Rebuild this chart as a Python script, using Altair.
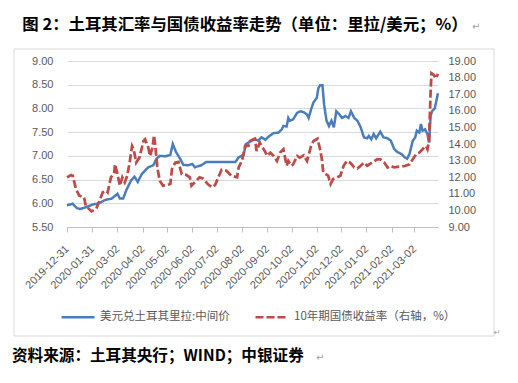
import altair as alt
import pandas as pd

title_text = "图 2：土耳其汇率与国债收益率走势（单位：里拉/美元；%）"
source_text = "资料来源：土耳其央行；WIND；中银证券"
blue_name = "美元兑土耳其里拉:中间价"
red_name = "10年期国债收益率（右轴，%）"

tick_dates = ["2019-12-31", "2020-01-31", "2020-03-02", "2020-04-02", "2020-05-02",
              "2020-06-02", "2020-07-02", "2020-08-02", "2020-09-02", "2020-10-02",
              "2020-11-02", "2020-12-02", "2021-01-02", "2021-02-02", "2021-03-02"]
x_domain = ["2019-12-31", "2021-03-31"]
left_ticks = [5.5, 6.0, 6.5, 7.0, 7.5, 8.0, 8.5, 9.0]
right_ticks = [9, 10, 11, 12, 13, 14, 15, 16, 17, 18, 19]

blue_dates = ["2019-12-31", "2020-01-07", "2020-01-12", "2020-01-16", "2020-01-22", "2020-01-31",
              "2020-02-08", "2020-02-16", "2020-02-24", "2020-03-02", "2020-03-05", "2020-03-09",
              "2020-03-13", "2020-03-19", "2020-03-23", "2020-03-27", "2020-04-01", "2020-04-09",
              "2020-04-15", "2020-04-19", "2020-04-23", "2020-04-30", "2020-05-06", "2020-05-09",
              "2020-05-13", "2020-05-18", "2020-05-22", "2020-05-28", "2020-06-02", "2020-06-05",
              "2020-06-13", "2020-06-19", "2020-07-03", "2020-07-25", "2020-07-29", "2020-08-04",
              "2020-08-07", "2020-08-12", "2020-08-18", "2020-08-22", "2020-08-26", "2020-08-31",
              "2020-09-04", "2020-09-10", "2020-09-16", "2020-09-20", "2020-09-22", "2020-09-26",
              "2020-09-28", "2020-09-30", "2020-10-04", "2020-10-09", "2020-10-13", "2020-10-17",
              "2020-10-21", "2020-10-23", "2020-10-26", "2020-10-29", "2020-11-02", "2020-11-04",
              "2020-11-06", "2020-11-09", "2020-11-11", "2020-11-14", "2020-11-17", "2020-11-20",
              "2020-11-23", "2020-11-26", "2020-11-30", "2020-12-03", "2020-12-07", "2020-12-11",
              "2020-12-14", "2020-12-18", "2020-12-22", "2020-12-26", "2020-12-30", "2021-01-03",
              "2021-01-05", "2021-01-08", "2021-01-11", "2021-01-14", "2021-01-19", "2021-01-23",
              "2021-01-28", "2021-02-01", "2021-02-05", "2021-02-09", "2021-02-14", "2021-02-18",
              "2021-02-21", "2021-02-24", "2021-02-28", "2021-03-03", "2021-03-05", "2021-03-08",
              "2021-03-10", "2021-03-12", "2021-03-15", "2021-03-18", "2021-03-20", "2021-03-22",
              "2021-03-24", "2021-03-27", "2021-03-31"]
blue_vals = [5.96, 5.99, 5.90, 5.88, 5.91, 5.97,
             6.00, 6.07, 6.10, 6.20, 6.10, 6.10,
             6.28, 6.49, 6.56, 6.45, 6.62, 6.76,
             6.80, 6.94, 7.00, 6.99, 7.02, 7.25,
             7.08, 6.94, 6.81, 6.80, 6.83, 6.76,
             6.80, 6.87, 6.87, 6.87, 6.97, 7.02,
             7.25, 7.30, 7.35, 7.32, 7.39, 7.34,
             7.41, 7.48, 7.49, 7.56, 7.63, 7.62,
             7.80, 7.74, 7.77, 7.91, 7.94, 7.92,
             7.87, 7.80, 7.98, 8.13, 8.22, 8.43,
             8.49, 8.49, 8.08, 7.74, 7.63, 7.74,
             7.60, 7.94, 7.87, 7.80, 7.84, 7.80,
             7.94, 7.80, 7.74, 7.60, 7.39, 7.37,
             7.42, 7.35, 7.46, 7.37, 7.51, 7.39,
             7.37, 7.32, 7.15, 7.08, 7.04, 6.97,
             6.94, 7.04, 7.32, 7.39, 7.53, 7.49,
             7.67, 7.53, 7.56, 7.46, 7.28, 7.85,
             7.95, 8.00, 8.32]

red_dates = ["2019-12-31", "2020-01-05", "2020-01-07", "2020-01-11", "2020-01-15", "2020-01-21",
             "2020-01-23", "2020-01-30", "2020-02-05", "2020-02-09", "2020-02-13", "2020-02-17",
             "2020-02-19", "2020-02-23", "2020-02-27", "2020-02-28", "2020-03-02", "2020-03-05",
             "2020-03-08", "2020-03-11", "2020-03-14", "2020-03-17", "2020-03-20", "2020-03-22",
             "2020-03-25", "2020-03-29", "2020-04-03", "2020-04-05", "2020-04-09", "2020-04-11",
             "2020-04-14", "2020-04-16", "2020-04-18", "2020-04-20", "2020-04-23", "2020-04-27",
             "2020-05-02", "2020-05-06", "2020-05-08", "2020-05-12", "2020-05-16", "2020-05-20",
             "2020-05-26", "2020-05-30", "2020-06-01", "2020-06-05", "2020-06-11", "2020-06-15",
             "2020-06-21", "2020-06-26", "2020-06-30", "2020-07-04", "2020-07-08", "2020-07-14",
             "2020-07-20", "2020-07-27", "2020-07-29", "2020-08-02", "2020-08-06", "2020-08-10",
             "2020-08-12", "2020-08-16", "2020-08-18", "2020-08-20", "2020-08-24", "2020-08-26",
             "2020-08-30", "2020-09-02", "2020-09-06", "2020-09-10", "2020-09-14", "2020-09-18",
             "2020-09-22", "2020-09-26", "2020-09-28", "2020-10-02", "2020-10-04", "2020-10-09",
             "2020-10-12", "2020-10-17", "2020-10-21", "2020-10-26", "2020-10-29", "2020-11-03",
             "2020-11-06", "2020-11-08", "2020-11-10", "2020-11-13", "2020-11-16", "2020-11-19",
             "2020-11-22", "2020-11-27", "2020-12-01", "2020-12-05", "2020-12-09", "2020-12-13",
             "2020-12-18", "2020-12-22", "2020-12-26", "2020-12-30", "2021-01-03", "2021-01-09",
             "2021-01-15", "2021-01-19", "2021-01-24", "2021-01-28", "2021-02-01", "2021-02-05",
             "2021-02-14", "2021-02-19", "2021-02-24", "2021-02-28", "2021-03-04", "2021-03-08",
             "2021-03-12", "2021-03-16", "2021-03-18", "2021-03-20", "2021-03-22", "2021-03-23",
             "2021-03-26", "2021-03-28", "2021-03-31"]
red_vals = [11.99, 12.13, 12.09, 11.29, 10.89, 10.79,
            10.29, 9.94, 10.10, 10.59, 11.09, 11.19,
            11.09, 11.99, 12.25, 12.78, 12.19, 11.49,
            11.99, 11.69, 12.09, 12.88, 13.88, 13.68,
            12.88, 13.18, 14.18, 14.28, 13.78, 13.28,
            13.78, 14.52, 13.68, 12.59, 11.79, 11.49,
            11.53, 11.59, 12.49, 12.88, 12.92, 12.19,
            12.13, 11.99, 11.49, 11.69, 11.99, 11.93,
            11.59, 11.39, 11.53, 11.99, 12.45, 12.39,
            12.09, 11.99, 12.59, 12.98, 13.88, 13.88,
            14.18, 14.28, 14.32, 13.58, 14.08, 13.88,
            13.58, 13.28, 13.48, 13.28, 12.98, 13.48,
            13.68, 12.69, 12.98, 12.69, 12.78, 13.28,
            13.18, 13.32, 12.98, 13.88, 14.18, 14.32,
            13.68, 13.18, 12.29, 12.19, 12.09, 11.59,
            11.89, 11.99, 12.09, 12.69, 12.98, 12.88,
            12.59, 12.53, 12.69, 12.88, 12.69, 12.88,
            13.08, 13.08, 12.88, 12.59, 12.69, 12.59,
            12.65, 12.69, 12.78, 13.08, 13.38, 13.48,
            13.68, 13.88, 13.68, 14.18, 17.27, 18.26,
            18.16, 17.95, 18.22]


def dt(s):
    y, m, d = (int(p) for p in s.split("-"))
    return alt.DateTime(year=y, month=m, date=d, utc=True)


df_b = pd.DataFrame({"date": blue_dates, "value": blue_vals, "series": blue_name})
df_r = pd.DataFrame({"date": red_dates, "value": red_vals, "series": red_name})

GRAY = "#595959"
FONT_NUM = "Liberation Sans"
FONT_CJK = "Noto Sans CJK SC"
BLUE = "#4A7EBB"
RED = "#BE4B48"

x_enc = alt.X(
    "date:T",
    title=None,
    scale=alt.Scale(type="utc", domain=[dt(x_domain[0]), dt(x_domain[1])]),
    axis=alt.Axis(values=[dt(s) for s in tick_dates], format="%Y-%m-%d", labelAngle=-45,
                  labelAlign="right", labelBaseline="middle", labelPadding=15,
                  grid=False, domainColor="#bfbfbf", tickColor="#bfbfbf", tickSize=5,
                  labelFont=FONT_NUM, labelFontSize=11, labelColor=GRAY,
                  labelOverlap=False, labelFlush=False),
)

color_enc = alt.Color("series:N",
                      scale=alt.Scale(domain=[blue_name, red_name], range=[BLUE, RED]),
                      legend=alt.Legend(title=None))
dash_enc = alt.StrokeDash("series:N",
                          scale=alt.Scale(domain=[blue_name, red_name], range=[[1, 0], [8, 3]]),
                          legend=alt.Legend(title=None))

blue = alt.Chart(df_b).mark_line(strokeWidth=2.5).encode(
    x=x_enc,
    y=alt.Y("value:Q", title=None,
            scale=alt.Scale(domain=[5.5, 9], nice=False, zero=False),
            axis=alt.Axis(orient="left", values=left_ticks, format=".2f", domain=False, ticks=False,
                          gridColor="#d9d9d9", labelPadding=14, labelFont=FONT_NUM,
                          labelFontSize=11, labelColor=GRAY)),
    color=color_enc,
    strokeDash=dash_enc,
)

red = alt.Chart(df_r).mark_line(strokeWidth=2.75).encode(
    x=x_enc,
    y=alt.Y("value:Q", title=None,
            scale=alt.Scale(domain=[9, 19], nice=False, zero=False),
            axis=alt.Axis(orient="right", values=right_ticks, format=".2f", domain=False, ticks=False,
                          grid=False, labelPadding=10, labelFont=FONT_NUM,
                          labelFontSize=11, labelColor=GRAY)),
    color=color_enc,
    strokeDash=dash_enc,
)

one = pd.DataFrame({"t": [title_text], "s": [source_text], "p": ["↵"]})

frame = alt.Chart(one).mark_rect(fill="transparent", stroke="#d9d9d9", strokeWidth=1).encode(
    x=alt.value(-53), x2=alt.value(427), y=alt.value(-12), y2=alt.value(275))

title = alt.Chart(one).mark_text(font=FONT_CJK, fontSize=16.4, fontWeight="bold", color="#000000",
                                 align="center", baseline="middle").encode(
    text="t:N", x=alt.value(178), y=alt.value(-36))
title_mark = alt.Chart(one).mark_text(font="DejaVu Sans", fontSize=10, color="#a0a0a0",
                                      align="left", baseline="middle").encode(
    text="p:N", x=alt.value(405), y=alt.value(-34))

source = alt.Chart(one).mark_text(font=FONT_CJK, fontSize=15.6, fontWeight="bold", color="#000000",
                                  align="left", baseline="middle").encode(
    text="s:N", x=alt.value(-55), y=alt.value(295))
source_mark = alt.Chart(one).mark_text(font="DejaVu Sans", fontSize=10, color="#a0a0a0",
                                       align="left", baseline="middle").encode(
    text="p:N", x=alt.value(249), y=alt.value(297))
frame_mark = alt.Chart(one).mark_text(font="DejaVu Sans", fontSize=8, color="#a0a0a0",
                                      align="left", baseline="middle").encode(
    text="p:N", x=alt.value(427), y=alt.value(272))

chart = alt.layer(frame, blue, red, title, title_mark, source, source_mark, frame_mark).resolve_scale(
    y="independent"
).properties(
    width=371, height=166,
    padding={"left": 59, "top": 53, "right": 72, "bottom": 143},
    autosize=alt.AutoSizeParams(type="none"),
).configure_view(stroke=None).configure_legend(
    orient="none", legendX=-7, legendY=238, direction="horizontal",
    symbolType="stroke", symbolSize=1089, symbolStrokeWidth=2.5,
    labelFont=FONT_CJK, labelFontSize=11.5, labelColor=GRAY, labelLimit=400,
    labelOffset=4, columnPadding=20, padding=0, title=None,
)

chart.save("out.html", embed_options={"renderer": "svg", "actions": False})
